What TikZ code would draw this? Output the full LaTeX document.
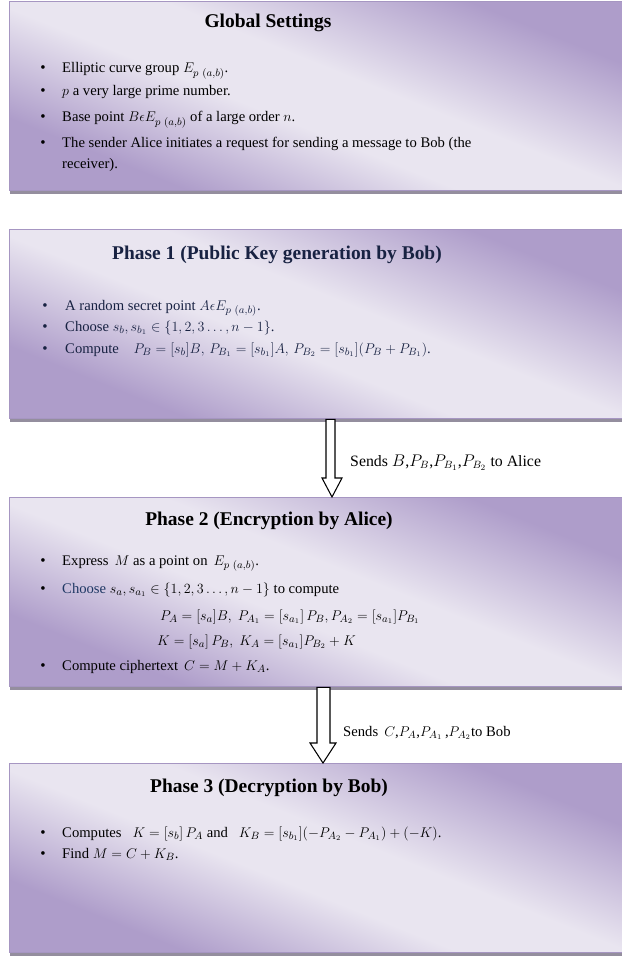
\documentclass[tikz,border=0pt]{standalone}
\usepackage{fontspec}
\setmainfont{Liberation Serif}
\usetikzlibrary{shadows}
\definecolor{lavdark}{RGB}{174,157,202}
\definecolor{lavlight}{RGB}{233,229,240}
\definecolor{lavedge}{RGB}{166,150,194}
\definecolor{shadowgray}{RGB}{148,142,158}
\definecolor{navytxt}{RGB}{24,34,66}
\definecolor{bluetxt}{RGB}{31,56,100}
\pgfdeclareverticalshading{lavband}{100bp}{color(0bp)=(lavdark); color(28bp)=(lavdark);
  color(44bp)=(lavlight); color(54bp)=(lavlight); color(72bp)=(lavdark); color(100bp)=(lavdark)}
\begin{document}
\begin{tikzpicture}[x=0.03cm,y=-0.03cm,
  box/.style={draw=lavedge,line width=1.2pt,shading=lavband,shading angle=-22,
    anchor=north west,minimum width=19.2cm,minimum height=5.67cm,inner sep=0pt,
    drop shadow={shadow xshift=0.6pt,shadow yshift=-2.6pt,fill=shadowgray,opacity=1}},
  ttl/.style={anchor=base,font=\fontsize{16.6}{20}\selectfont\bfseries,inner sep=0pt},
  txt/.style={anchor=base west,font=\fontsize{12.5}{15}\selectfont,inner sep=0pt},
  blt/.style={anchor=base,font=\fontsize{13}{15}\selectfont,inner sep=0pt},
  sendarrow/.style={draw=black,fill=white,line width=0.9pt,line join=miter}]
\clip (0,0) rectangle (622,956);
\node[box] (glob) at (9,1) {};
\node[box] (ph1) at (9,229) {};
\node[box] (ph2) at (9,497) {};
\node[box] (ph3) at (9,763) {};
\node[ttl] (globtitle) at (268,28) {Global Settings};
\node[blt] (gb1) at (43,73) {\textbullet};
\node[txt] (gt1) at (62,73) {Elliptic curve group $E_{p\ (a,b)}$.};
\node[blt] (gb2) at (43,96) {\textbullet};
\node[txt] (gt2) at (62,96) {$p$ a very large prime number.};
\node[blt] (gb3) at (43,122) {\textbullet};
\node[txt] (gt3) at (62,122) {Base point $B\epsilon E_{p\ (a,b)}$ of a large order $n$.};
\node[blt] (gb4) at (43,148) {\textbullet};
\node[txt] (gt4) at (62,148) {The sender Alice initiates a request for sending a message to Bob (the};
\node[txt] (gt5) at (62,169) {receiver).};
\begin{scope}[color=navytxt]
\node[ttl] (ph1title) at (277,259) {Phase 1 (Public Key generation by Bob)};
\node[blt] (pa1) at (45,310) {\textbullet};
\node[txt] (qa1) at (65,310) {A random secret point $A\epsilon E_{p\ (a,b)}$.};
\node[blt] (pa2) at (45,331) {\textbullet};
\node[txt] (qa2) at (65,331) {Choose $s_b,s_{b_1}\in\{1,2,3\ldots,n - 1\}$.};
\node[blt] (pa3) at (45,353) {\textbullet};
\node[txt] (qa3) at (65,353) {Compute\quad $P_B = [s_b]B,\, P_{B_1} = [s_{b_1}]A,\, P_{B_2} = [s_{b_1}](P_B + P_{B_1})$.};
\end{scope}
\node[ttl] (ph2title) at (269,525) {Phase 2 (Encryption by Alice)};
\node[blt] (pb1) at (43,565) {\textbullet};
\node[txt] (qb1) at (62,565) {Express\, $M$ as a point on\, $E_{p\ (a,b)}$.};
\node[blt] (pb2) at (43,593) {\textbullet};
\node[txt] (qb2) at (62,593) {\textcolor{bluetxt}{Choose} $s_a,s_{a_1}\in\{1,2,3\ldots,n - 1\}$ to compute};
\node[txt] (qb3) at (160,620) {$P_A = [s_a]B,\ P_{A_1} = [s_{a_1}]\,P_B, P_{A_2} = [s_{a_1}]P_{B_1}$};
\node[txt] (qb4) at (157,645) {$K = [s_a]\,P_B,\ K_A = [s_{a_1}]P_{B_2} + K$};
\node[blt] (pb5) at (43,670) {\textbullet};
\node[txt] (qb5) at (62,670) {Compute ciphertext\, $C = M + K_A$.};
\node[ttl] (ph3title) at (269,792) {Phase 3 (Decryption by Bob)};
\node[blt] (pc1) at (43,837) {\textbullet};
\node[txt] (qc1) at (62,837) {Computes\enspace\ $K = [s_b]\,P_A$ and\enspace\ $K_B = [s_{b_1}]\bigl(-P_{A_2} - P_{A_1}\bigr) + (-K)$.};
\node[blt] (pc2) at (43,858) {\textbullet};
\node[txt] (qc2) at (62,858) {Find $M = C + K_B$.};
\draw[sendarrow] (ph1.south -| 326,0) -- (326,478) -- (322,478) -- (ph2.north -| 332,0)
  -- (342,478) -- (335,478) -- (ph1.south -| 335,0) -- cycle;
\node[txt,font=\fontsize{13.5}{16}\selectfont] (send1) at (350,466) {Sends $B$,$P_B$,$P_{B_1}$,$P_{B_2}$ to Alice};
\draw[sendarrow] (ph2.south -| 317,0) -- (317,743) -- (310,743) -- (ph3.north -| 323,0)
  -- (336,743) -- (330,743) -- (ph2.south -| 330,0) -- cycle;
\node[txt,font=\fontsize{12.5}{15}\selectfont] (send2) at (343,736) {Sends\, $C$,$P_A$,$P_{A_1}$\,,$P_{A_2}$to Bob};
\end{tikzpicture}
\end{document}
